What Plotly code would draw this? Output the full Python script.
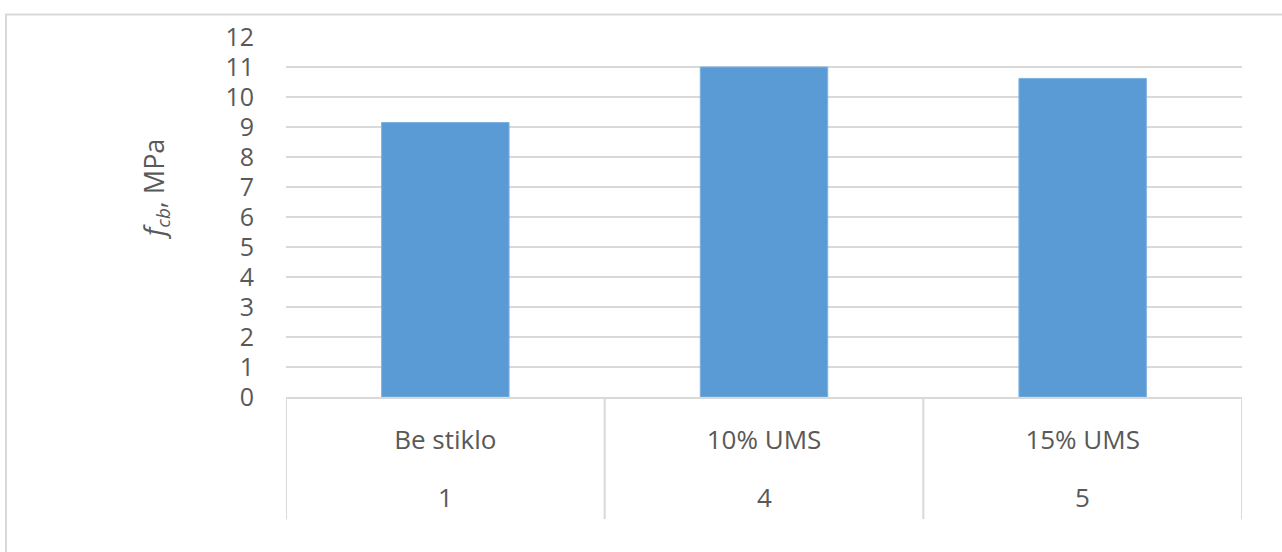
import plotly.graph_objects as go

# Mix groups (outer level) and mix names (inner level)
mix_numbers = ["1", "4", "5"]
mix_names = ["Be stiklo", "10% UMS", "15% UMS"]
fcb_values = [9.15, 11.0, 10.62]

y_ticks = list(range(0, 13))

W, H = 1282, 552
L, R, T, B = 286, 40, 36.5, 154.5
plot_w = W - L - R
plot_h = H - T - B

FONT = "Open Sans"
TXT = "#595959"
GRID = "#D9D9D9"
FS = 25

fig = go.Figure()
fig.add_trace(go.Bar(
    x=mix_names,
    y=fcb_values,
    marker=dict(color="#5B9BD5", line=dict(color="#7FB2E0", width=1)),
    width=0.4,
))


def px_to_paper_x(px):
    return (px - L) / plot_w


def px_to_paper_y(py):
    return (H - B - py) / plot_h


shapes = [dict(
    type="rect", xref="paper", yref="paper",
    x0=px_to_paper_x(6), x1=px_to_paper_x(W + 20),
    y0=px_to_paper_y(H + 20), y1=px_to_paper_y(14),
    line=dict(color=GRID, width=2), fillcolor="rgba(0,0,0,0)", layer="below",
)]
# category dividers running through both label rows
for k in range(len(mix_names) + 1):
    shapes.append(dict(
        type="line", xref="x", yref="paper",
        x0=k - 0.5, x1=k - 0.5,
        y0=0, y1=px_to_paper_y(520),
        line=dict(color=GRID, width=2),
    ))

annotations = [dict(
    text="<i>f</i><sub><i>cb</i></sub>, MPa",
    xref="paper", yref="paper",
    x=px_to_paper_x(155), y=px_to_paper_y(190),
    xanchor="center", yanchor="middle",
    textangle=-90, showarrow=False,
    font=dict(family=FONT, size=27, color=TXT),
)]
# outer row of the category axis
for name, num in zip(mix_names, mix_numbers):
    annotations.append(dict(
        text=num, xref="x", yref="paper",
        x=name, y=px_to_paper_y(498),
        xanchor="center", yanchor="middle", showarrow=False,
        font=dict(family=FONT, size=FS + 1, color=TXT),
    ))

fig.update_layout(
    width=W, height=H,
    margin=dict(l=L, r=R, t=T, b=B, autoexpand=False),
    paper_bgcolor="white", plot_bgcolor="white",
    showlegend=False,
    font=dict(family=FONT, size=FS, color=TXT),
    xaxis=dict(
        type="category", range=[-0.5, len(mix_names) - 0.5],
        showline=True, linecolor=GRID, linewidth=2,
        showgrid=False, ticks="",
        ticklabelstandoff=19,
        tickfont=dict(family=FONT, size=FS + 1, color=TXT),
    ),
    yaxis=dict(
        range=[0, 12], tickvals=y_ticks,
        showgrid=True, gridcolor=GRID, gridwidth=2,
        showline=False, zeroline=False, ticks="",
        tickfont=dict(family=FONT, size=FS, color=TXT),
        ticklabelstandoff=31,
    ),
    shapes=shapes,
    annotations=annotations,
)

fig.write_html("out.html")
